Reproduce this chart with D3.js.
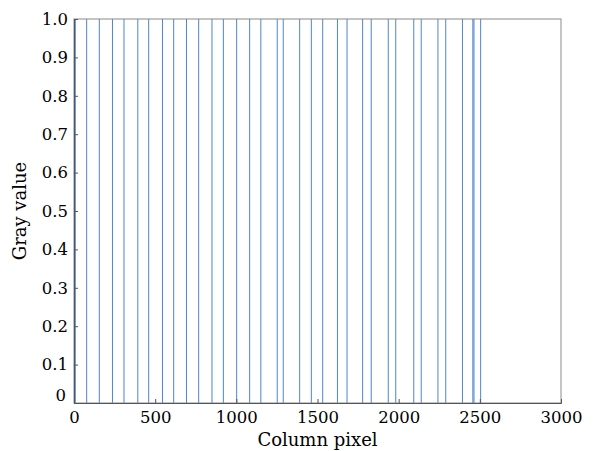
<!DOCTYPE html>
<html>
<head>
<meta charset="utf-8">
<script src="https://cdn.jsdelivr.net/npm/d3@7"></script>
<style>
  body { margin: 0; background: #fff; }
  text { font-family: "DejaVu Serif", serif; fill: #000; }
</style>
</head>
<body>
<div id="chart"></div>
<script>
// column pixels where gray value jumps to 1
var edges = [8, 78, 156, 237, 308, 393, 460, 545, 614, 693, 768, 850, 920, 1002, 1082, 1151,
  1252, 1289, 1390, 1462, 1532, 1623, 1682, 1778, 1831, 1936, 1982, 2093, 2139, 2242, 2290,
  2393, 2457, 2464, 2505];
var xTicks = [0, 500, 1000, 1500, 2000, 2500, 3000];
var yTicks = [0, 0.1, 0.2, 0.3, 0.4, 0.5, 0.6, 0.7, 0.8, 0.9, 1.0];

var W = 593, H = 451;
var m = {left: 74, right: 32, top: 19, bottom: 48};

var svg = d3.select('#chart').append('svg').attr('width', W).attr('height', H);

var x = d3.scaleLinear().domain([0, 3000]).range([m.left, W - m.right]);
var y = d3.scaleLinear().domain([0, 1]).range([H - m.bottom, m.top]);

// vertical lines
svg.append('g').selectAll('line').data(edges).enter().append('line')
  .attr('x1', function (d) { return x(d); })
  .attr('x2', function (d) { return x(d); })
  .attr('y1', y(0)).attr('y2', y(1))
  .attr('stroke', '#2f72c4').attr('stroke-width', 1).attr('opacity', 0.85);

// box
svg.append('rect')
  .attr('x', x(0)).attr('y', y(1))
  .attr('width', x(3000) - x(0)).attr('height', y(0) - y(1))
  .attr('fill', 'none').attr('stroke', '#8a8a8a').attr('stroke-width', 1);

var xAxis = d3.axisBottom(x).tickValues(xTicks).tickSize(-4).tickPadding(8)
  .tickFormat(d3.format('d'));
var gx = svg.append('g').attr('transform', 'translate(0,' + y(0) + ')').call(xAxis);
gx.select('.domain').attr('stroke', '#555');
gx.selectAll('.tick line').attr('stroke', '#555');
gx.selectAll('.tick text').attr('font-size', 16.5).attr('font-family', '"DejaVu Serif", serif').attr('fill', '#000');

var yAxis = d3.axisLeft(y).tickValues(yTicks).tickSize(-4).tickPadding(6)
  .tickFormat(function (d) { return d === 0 ? '0' : d3.format('.1f')(d); });
var gy = svg.append('g').attr('transform', 'translate(' + x(0) + ',0)').call(yAxis);
gy.select('.domain').attr('stroke', '#555');
gy.selectAll('.tick line').attr('stroke', '#555');
gy.selectAll('.tick text').attr('font-size', 16.5).attr('font-family', '"DejaVu Serif", serif').attr('fill', '#000');
gy.selectAll('.tick').filter(function (d) { return d === 0; }).select('text')
  .attr('dy', '-0.15em').attr('x', -8);

svg.append('text')
  .attr('x', (x(0) + x(3000)) / 2).attr('y', 446)
  .attr('text-anchor', 'middle').attr('font-size', 18)
  .text('Column pixel');

svg.append('text')
  .attr('transform', 'translate(26,' + ((y(0) + y(1)) / 2) + ') rotate(-90)')
  .attr('text-anchor', 'middle').attr('font-size', 18)
  .text('Gray value');
</script>
</body>
</html>
